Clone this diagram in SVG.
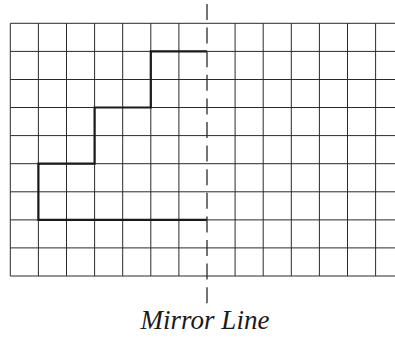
<svg xmlns="http://www.w3.org/2000/svg" width="395" height="338" viewBox="0 0 395 338">
<style>
.g{stroke:#2a2a2a;stroke-width:1;fill:none}
.shape{stroke:#1a1a1a;stroke-width:2.2;fill:none;stroke-linejoin:miter}
.mirror{stroke:#2a2a2a;stroke-width:1.3;stroke-dasharray:16 7.6}
.lbl{font-family:"Liberation Serif","Times New Roman",serif;font-style:italic;font-size:27px;fill:#1a1a1a}
</style>
<rect width="395" height="338" fill="#fff"/>
<g id="grid" class="g">
<line x1="10.3" y1="23.3" x2="395" y2="23.3"/>
<line x1="10.3" y1="51.4" x2="395" y2="51.4"/>
<line x1="10.3" y1="79.5" x2="395" y2="79.5"/>
<line x1="10.3" y1="107.5" x2="395" y2="107.5"/>
<line x1="10.3" y1="135.6" x2="395" y2="135.6"/>
<line x1="10.3" y1="163.7" x2="395" y2="163.7"/>
<line x1="10.3" y1="191.8" x2="395" y2="191.8"/>
<line x1="10.3" y1="219.9" x2="395" y2="219.9"/>
<line x1="10.3" y1="247.9" x2="395" y2="247.9"/>
<line x1="10.3" y1="276" x2="395" y2="276"/>
<line x1="10.3" y1="23.3" x2="10.3" y2="276"/>
<line x1="38.4" y1="23.3" x2="38.4" y2="276"/>
<line x1="66.5" y1="23.3" x2="66.5" y2="276"/>
<line x1="94.6" y1="23.3" x2="94.6" y2="276"/>
<line x1="122.7" y1="23.3" x2="122.7" y2="276"/>
<line x1="150.8" y1="23.3" x2="150.8" y2="276"/>
<line x1="178.9" y1="23.3" x2="178.9" y2="276"/>
<line x1="235.1" y1="23.3" x2="235.1" y2="276"/>
<line x1="263.2" y1="23.3" x2="263.2" y2="276"/>
<line x1="291.3" y1="23.3" x2="291.3" y2="276"/>
<line x1="319.4" y1="23.3" x2="319.4" y2="276"/>
<line x1="347.5" y1="23.3" x2="347.5" y2="276"/>
<line x1="375.6" y1="23.3" x2="375.6" y2="276"/>
</g>
<g id="shape">
<polyline class="shape" points="207,51.4 150.8,51.4 150.8,107.5 94.6,107.5 94.6,163.7 38.4,163.7 38.4,219.9 207,219.9"/>
</g>
<g id="mirror-line">
<line class="mirror" x1="207" y1="4" x2="207" y2="305"/>
</g>
<text class="lbl" x="205" y="329" text-anchor="middle">Mirror Line</text>
</svg>
